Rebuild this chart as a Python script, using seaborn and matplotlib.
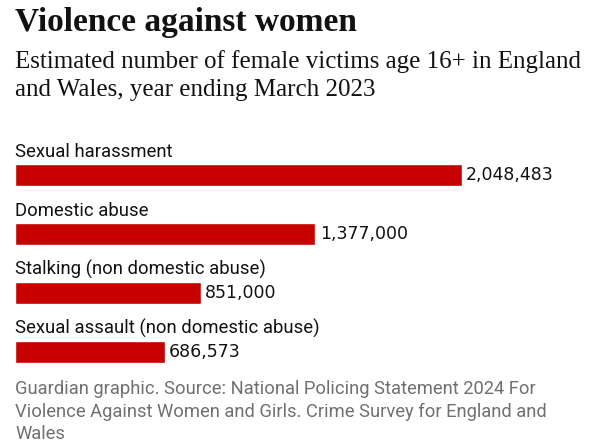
import matplotlib
matplotlib.use("Agg")
import matplotlib.pyplot as plt
import pandas as pd
import seaborn as sns

# data
categories = [
    "Sexual harassment",
    "Domestic abuse",
    "Stalking (non domestic abuse)",
    "Sexual assault (non domestic abuse)",
]
victims = [2048483, 1377000, 851000, 686573]

title = "Violence against women"
subtitle = ("Estimated number of female victims age 16+ in England\n"
            "and Wales, year ending March 2023")
source = ("Guardian graphic. Source: National Policing Statement 2024 For\n"
          "Violence Against Women and Girls. Crime Survey for England and\n"
          "Wales")

RED = "#c70000"
INK = "#121212"
GREY = "#707070"

sns.set_style("white")
plt.rcParams["font.family"] = ["Roboto", "DejaVu Sans"]

df = pd.DataFrame({"category": categories, "victims": victims})

fig = plt.figure(figsize=(6, 4.48), dpi=100)
ax = fig.add_axes([15 / 600, 1 - 370 / 448, 570 / 600, 240 / 448])

sns.barplot(data=df, x="victims", y="category", color=RED, width=0.37,
            saturation=1, ax=ax)

ax.set_xlim(0, 2612000)
ax.set_ylim(3 + 18 / 59, -45 / 59)
ax.set_axis_off()

# category labels above each bar, values to the right
for i, (cat, val) in enumerate(zip(categories, victims)):
    ax.text(0, i - 0.31, cat, fontsize=13.3, color=INK, va="baseline", ha="left")
    ax.annotate(f"{val:,}", xy=(val, i), xytext=(3, 0), textcoords="offset points",
                fontsize=12.5, family=["DejaVu Sans"], color=INK,
                va="center", ha="left")

fig.text(15 / 600, 1 - 31 / 448, title, fontsize=24, fontweight="bold",
         family=["Liberation Serif"], color=INK, va="baseline")
for k, line in enumerate(subtitle.split("\n")):
    fig.text(15 / 600, 1 - (68 + 28 * k) / 448, line, fontsize=18,
             family=["Liberation Serif"], color=INK, va="baseline")
fig.text(15 / 600, 1 - 380 / 448, source, fontsize=13.2, color=GREY,
         va="top", linespacing=1.32)

fig.savefig("out.png", dpi=100, facecolor="white")
